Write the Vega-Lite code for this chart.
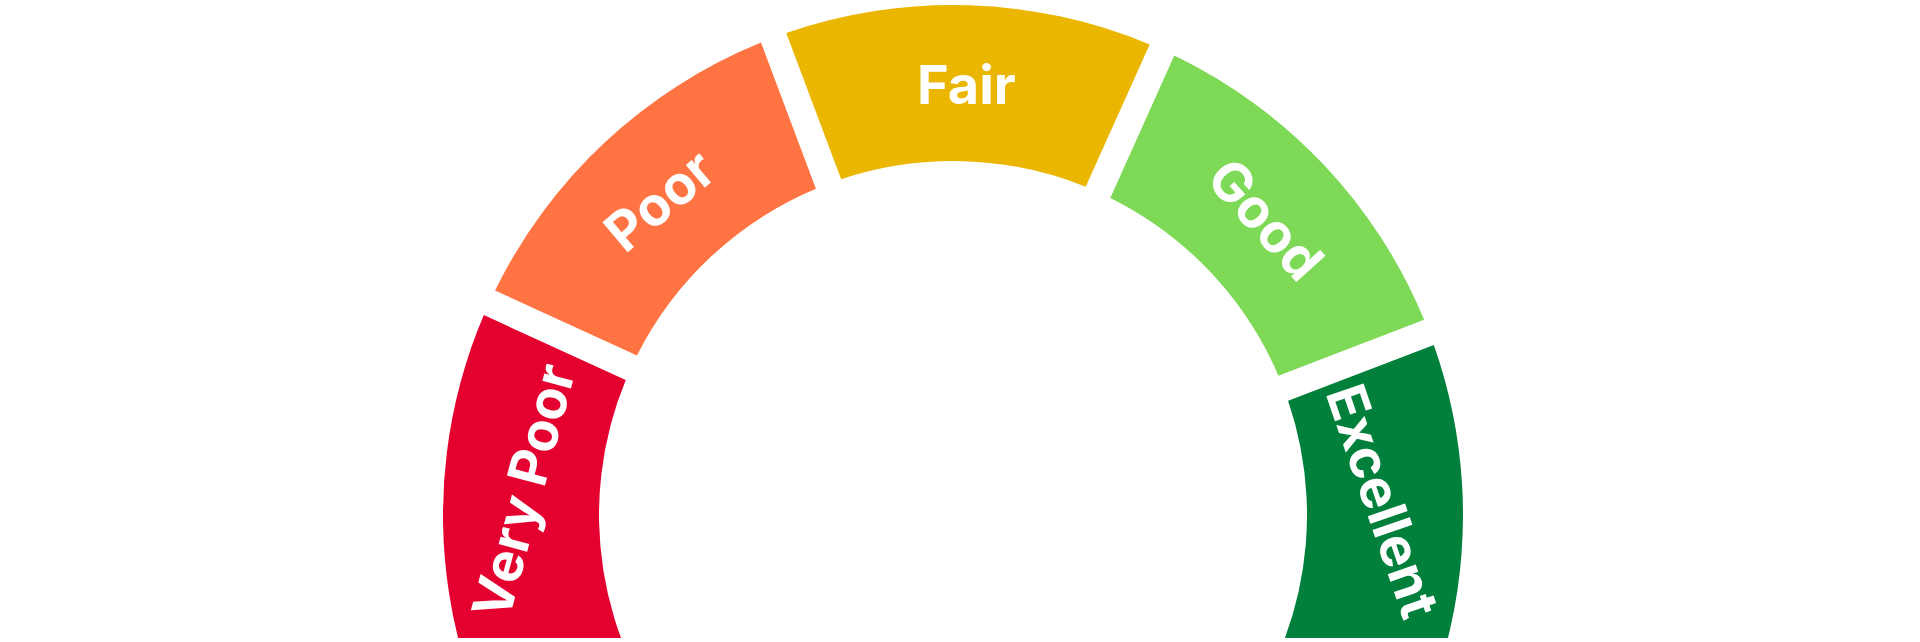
{
  "$schema": "https://vega.github.io/schema/vega-lite/v6.json",
  "width": 1906,
  "height": 1030,
  "autosize": {"type": "none"},
  "padding": {"left": 0, "top": 0, "right": 14, "bottom": -392},
  "background": "#ffffff",
  "config": {"view": {"stroke": null}},
  "data": {
    "values": [
      {"label": "Very Poor", "start": -0.5, "end": 1, "mid": 0.52},
      {"label": "Poor", "start": 1, "end": 2, "mid": 1.5},
      {"label": "Fair", "start": 2, "end": 3, "mid": 2.5},
      {"label": "Good", "start": 3, "end": 4, "mid": 3.5},
      {"label": "Excellent", "start": 4, "end": 5.5, "mid": 4.43}
    ]
  },
  "layer": [
    {
      "mark": {"type": "arc", "radius": 510, "radius2": 354, "padAngle": 0.0435},
      "encoding": {
        "theta": {"field": "start", "type": "quantitative", "stack": null, "scale": {"domain": [0, 5], "range": [-1.9234, 1.9862]}},
        "theta2": {"field": "end"},
        "color": {
          "field": "label",
          "type": "nominal",
          "scale": {
            "domain": ["Very Poor", "Poor", "Fair", "Good", "Excellent"],
            "range": ["#E4002F", "#FF7442", "#EBB600", "#7ED957", "#00803A"]
          },
          "legend": null
        }
      }
    },
    {
      "mark": {"type": "text", "radius": 427, "color": "#ffffff", "font": "Inter", "fontWeight": "bold", "fontSize": 54, "align": "center", "baseline": "middle"},
      "encoding": {
        "theta": {"field": "mid", "type": "quantitative", "stack": null},
        "text": {"field": "label", "type": "nominal"},
        "angle": {
          "field": "label",
          "type": "nominal",
          "scale": {
            "type": "ordinal",
            "domain": ["Very Poor", "Poor", "Fair", "Good", "Excellent"],
            "range": [-75, -40, 0, 48, 71]
          },
          "legend": null
        }
      }
    }
  ]
}
